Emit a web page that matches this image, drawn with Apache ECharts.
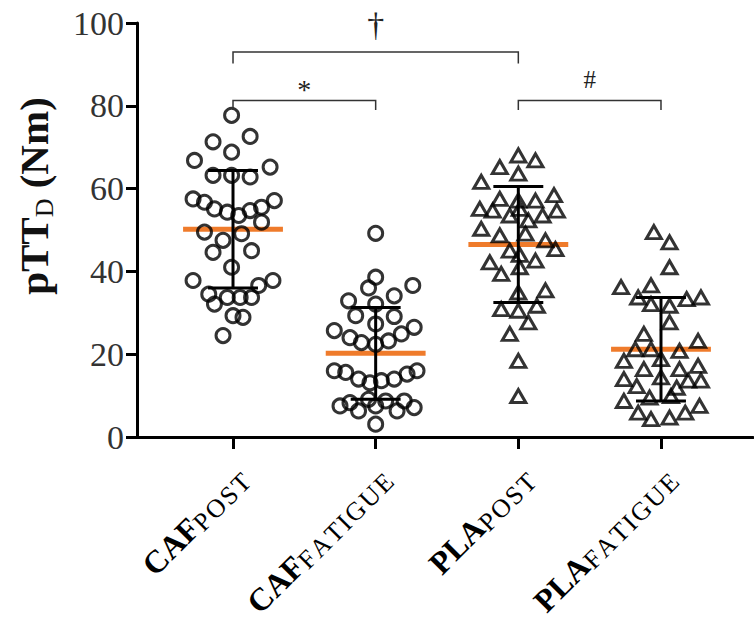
<!DOCTYPE html>
<html><head><meta charset="utf-8">
<script src="https://cdn.jsdelivr.net/npm/echarts@6/dist/echarts.min.js"></script>
<style>html,body{margin:0;padding:0;background:#fff}#c{width:754px;height:623px}</style>
</head><body><div id="c"></div>
<script>
// ---- data ----
const groupMain = ['CAF', 'CAF', 'PLA', 'PLA'];
const groupSub = ['POST', 'FATIGUE', 'POST', 'FATIGUE'];
const yTicks = [0, 20, 40, 60, 80, 100];

const cafPostY = [77.7,72.6,71.3,68.8,66.8,65.2,63.2,63.2,62.8,57.5,56.7,55.1,54.3,53.5,54.7,55.5,57.1,51.9,49.5,49.1,47.5,44.6,45.0,41.0,37.8,37.8,36.6,34.5,32.1,33.7,33.7,33.7,29.3,28.9,24.5];
const cafPostJit = [-0.01,0.12,-0.14,-0.01,-0.27,0.26,-0.14,-0.01,0.12,-0.28,-0.20,-0.13,-0.04,0.04,0.12,0.20,0.29,0.20,-0.20,0.06,-0.07,-0.14,0.13,-0.01,-0.28,0.28,0.18,-0.17,-0.13,-0.04,0.05,0.13,0.00,0.07,-0.07];

const cafFatY = [49.2,38.6,36.0,36.6,34.1,32.9,32.1,29.3,29.1,27.3,25.7,26.5,24.0,22.8,22.4,23.2,24.9,16.0,15.6,14.0,13.1,13.6,14.0,15.2,16.0,7.5,8.3,6.3,9.1,7.5,8.7,6.3,8.7,7.1,3.1];
const cafFatJit = [0,0,-0.05,0.26,0.13,-0.19,0,-0.14,0.13,0,-0.29,0.27,-0.18,-0.10,0,0.09,0.18,-0.29,-0.21,-0.12,-0.04,0.04,0.13,0.22,0.29,-0.25,-0.18,-0.12,-0.05,0,0.07,0.15,0.20,0.27,0];

const plaPostY = [68.0,66.8,65.2,63.6,61.6,57.5,57.1,57.1,58.4,55.1,54.7,53.5,55.1,53.5,54.7,52.3,50.3,48.7,49.1,47.5,45.4,45.0,44.0,42.2,39.4,41.0,42.6,35.4,34.9,30.9,30.5,31.7,27.7,24.9,18.4,9.9];
const plaPostJit = [0,0.12,-0.13,0,-0.26,-0.13,0,0.12,0.25,-0.27,-0.18,-0.06,0.01,0.17,0.27,0.07,-0.26,-0.13,0.05,0.19,0.26,-0.06,0.01,-0.20,-0.12,0.01,0.12,0.19,0,-0.12,0,0.13,0.07,-0.06,0,0];

const plaFatY = [49.5,47.0,41.0,36.2,36.6,33.7,32.1,31.7,33.3,33.7,27.7,24.9,23.2,21.2,21.2,20.8,18.4,16.4,18.8,16.4,17.2,14.0,12.3,14.4,11.9,13.6,13.6,9.5,9.9,8.7,5.9,4.3,4.7,5.9,7.5];
const plaFatJit = [-0.05,0.06,0.06,-0.28,-0.07,-0.16,-0.07,0.06,0.18,0.28,0.06,-0.12,0.26,-0.18,-0.07,0.13,-0.26,-0.12,0,0.13,0.26,-0.26,-0.17,0,0.11,0.19,0.28,-0.08,0.07,-0.26,-0.16,-0.07,0.06,0.17,0.27];

const means = [50.2, 20.2, 46.5, 21.2];
const sds = [14.2, 11.1, 14.0, 12.5];

const brackets = [
  { from: 1, to: 3, y: 93.0, tip: 2.8, text: '\u2020' },
  { from: 1, to: 2, y: 81.3, tip: 2.3, text: '*' },
  { from: 3, to: 4, y: 81.3, tip: 2.3, text: '#' }
];

// ---- styles ----
const SERIF = '"Liberation Serif", "DejaVu Serif", serif';
const MEAN_HALF = 0.35, CAP_HALF = 0.175;
// glyph size and vertical gap (px above the bracket line, to glyph middle)
const markStyle = { '\u2020': { size: 34, gap: 27 }, '*': { size: 28, gap: 11 }, '#': { size: 25, gap: 21 } };

// ---- build ----
const groups = [
  { y: cafPostY, j: cafPostJit, sym: 'circle' },
  { y: cafFatY, j: cafFatJit, sym: 'circle' },
  { y: plaPostY, j: plaPostJit, sym: 'triangle' },
  { y: plaFatY, j: plaFatJit, sym: 'triangle' }
];

const scatterSeries = groups.map((g, gi) => ({
  type: 'scatter',
  z: 3,
  symbol: g.sym,
  symbolSize: g.sym === 'circle' ? 14 : [15, 13],
  itemStyle: { color: 'rgba(255,255,255,0)', borderColor: '#000', borderWidth: 3 },
  data: g.y.map((v, i) => [gi + 1 + g.j[i], v]),
  silent: true
}));

const meanSeries = {
  type: 'custom', z: 2, silent: true,
  data: means.map((m, i) => [i + 1, m]),
  renderItem(params, api) {
    const x = api.value(0), m = api.value(1);
    const a = api.coord([x - MEAN_HALF, m]), b = api.coord([x + MEAN_HALF, m]);
    return { type: 'line', shape: { x1: a[0], y1: a[1], x2: b[0], y2: b[1] },
      style: { stroke: '#EF7B2B', lineWidth: 5 } };
  }
};

const errSeries = {
  type: 'custom', z: 4, silent: true,
  data: means.map((m, i) => [i + 1, m - sds[i], m + sds[i]]),
  renderItem(params, api) {
    const x = api.value(0), lo = api.value(1), hi = api.value(2);
    const pl = api.coord([x, lo]), ph = api.coord([x, hi]);
    const cl1 = api.coord([x - CAP_HALF, lo]), cl2 = api.coord([x + CAP_HALF, lo]);
    const ch1 = api.coord([x - CAP_HALF, hi]), ch2 = api.coord([x + CAP_HALF, hi]);
    const st = { stroke: '#000', lineWidth: 3 };
    return { type: 'group', children: [
      { type: 'line', shape: { x1: pl[0], y1: pl[1], x2: ph[0], y2: ph[1] }, style: st },
      { type: 'line', shape: { x1: cl1[0], y1: cl1[1], x2: cl2[0], y2: cl2[1] }, style: st },
      { type: 'line', shape: { x1: ch1[0], y1: ch1[1], x2: ch2[0], y2: ch2[1] }, style: st }
    ] };
  }
};

const bracketSeries = {
  type: 'custom', z: 5, silent: true, clip: false,
  data: brackets.map(b => [b.from, b.to, b.y, b.tip]),
  renderItem(params, api) {
    const f = api.value(0), t = api.value(1), y = api.value(2), tip = api.value(3);
    const p1 = api.coord([f, y - tip]), p2 = api.coord([f, y]), p3 = api.coord([t, y]), p4 = api.coord([t, y - tip]);
    const txt = brackets[params.dataIndex].text;
    const ms = markStyle[txt];
    return { type: 'group', children: [
      { type: 'polyline', shape: { points: [p1, p2, p3, p4] },
        style: { stroke: '#333', lineWidth: 1.5, fill: null } },
      { type: 'text', x: (p2[0] + p3[0]) / 2, y: p2[1] - ms.gap,
        style: { text: txt, textAlign: 'center', textVerticalAlign: 'middle',
          font: ms.size + 'px ' + SERIF, fill: '#222' } }
    ] };
  }
};

function xLabel(v) {
  const i = Math.round(v) - 1;
  if (i < 0 || i > 3) return '';
  const letters = groupSub[i].split('');
  let s = '{m|' + groupMain[i] + '}';
  letters.forEach((c, k) => { s += (k === letters.length - 1 ? '{e|' : '{s|') + c + '}'; });
  return s;
}

const chart = echarts.init(document.getElementById('c'), null, { renderer: 'svg' });
chart.setOption({
  animation: false,
  backgroundColor: '#fff',
  grid: { left: 137, right: 1, top: 23, bottom: 186, containLabel: false, outerBoundsMode: 'none' },
  xAxis: {
    type: 'value', min: 0.327, max: 4.645,
    splitLine: { show: false },
    axisLine: { show: true, onZero: false, lineStyle: { color: '#000', width: 3 } },
    axisTick: { show: true, customValues: [1, 2, 3, 4], length: 12, lineStyle: { color: '#000', width: 3 } },
    axisLabel: {
      customValues: [1, 2, 3, 4], rotate: 45, margin: 14, padding: [47, 9, 0, 0],
      formatter: xLabel, color: '#000', hideOverlap: false,
      rich: {
        m: { fontFamily: SERIF, fontWeight: 'bold', fontSize: 32, lineHeight: 36, color: '#000' },
        s: { fontFamily: SERIF, fontSize: 26, lineHeight: 29, verticalAlign: 'bottom', padding: [0, 2, 0, 0], color: '#000' },
        e: { fontFamily: SERIF, fontSize: 26, lineHeight: 29, verticalAlign: 'bottom', color: '#000' }
      }
    }
  },
  yAxis: {
    type: 'value', min: yTicks[0], max: yTicks[yTicks.length - 1], interval: 20,
    splitLine: { show: false },
    axisLine: { show: true, lineStyle: { color: '#000', width: 3 } },
    axisTick: { show: true, length: 11, lineStyle: { color: '#000', width: 3 } },
    axisLabel: { fontFamily: SERIF, fontSize: 34, color: '#333', margin: 13 },
    name: '{b|pTT}{d|D}{b| (Nm)}',
    nameLocation: 'middle', nameRotate: 90, nameGap: 80,
    nameTextStyle: {
      padding: [0, 0, 0, 68],
      rich: {
        b: { fontFamily: SERIF, fontWeight: 'bold', fontSize: 41, lineHeight: 46, color: '#111' },
        d: { fontFamily: SERIF, fontSize: 26, lineHeight: 26, verticalAlign: 'bottom', color: '#111' }
      }
    }
  },
  series: [meanSeries, ...scatterSeries, errSeries, bracketSeries]
});
</script>
</body></html>
